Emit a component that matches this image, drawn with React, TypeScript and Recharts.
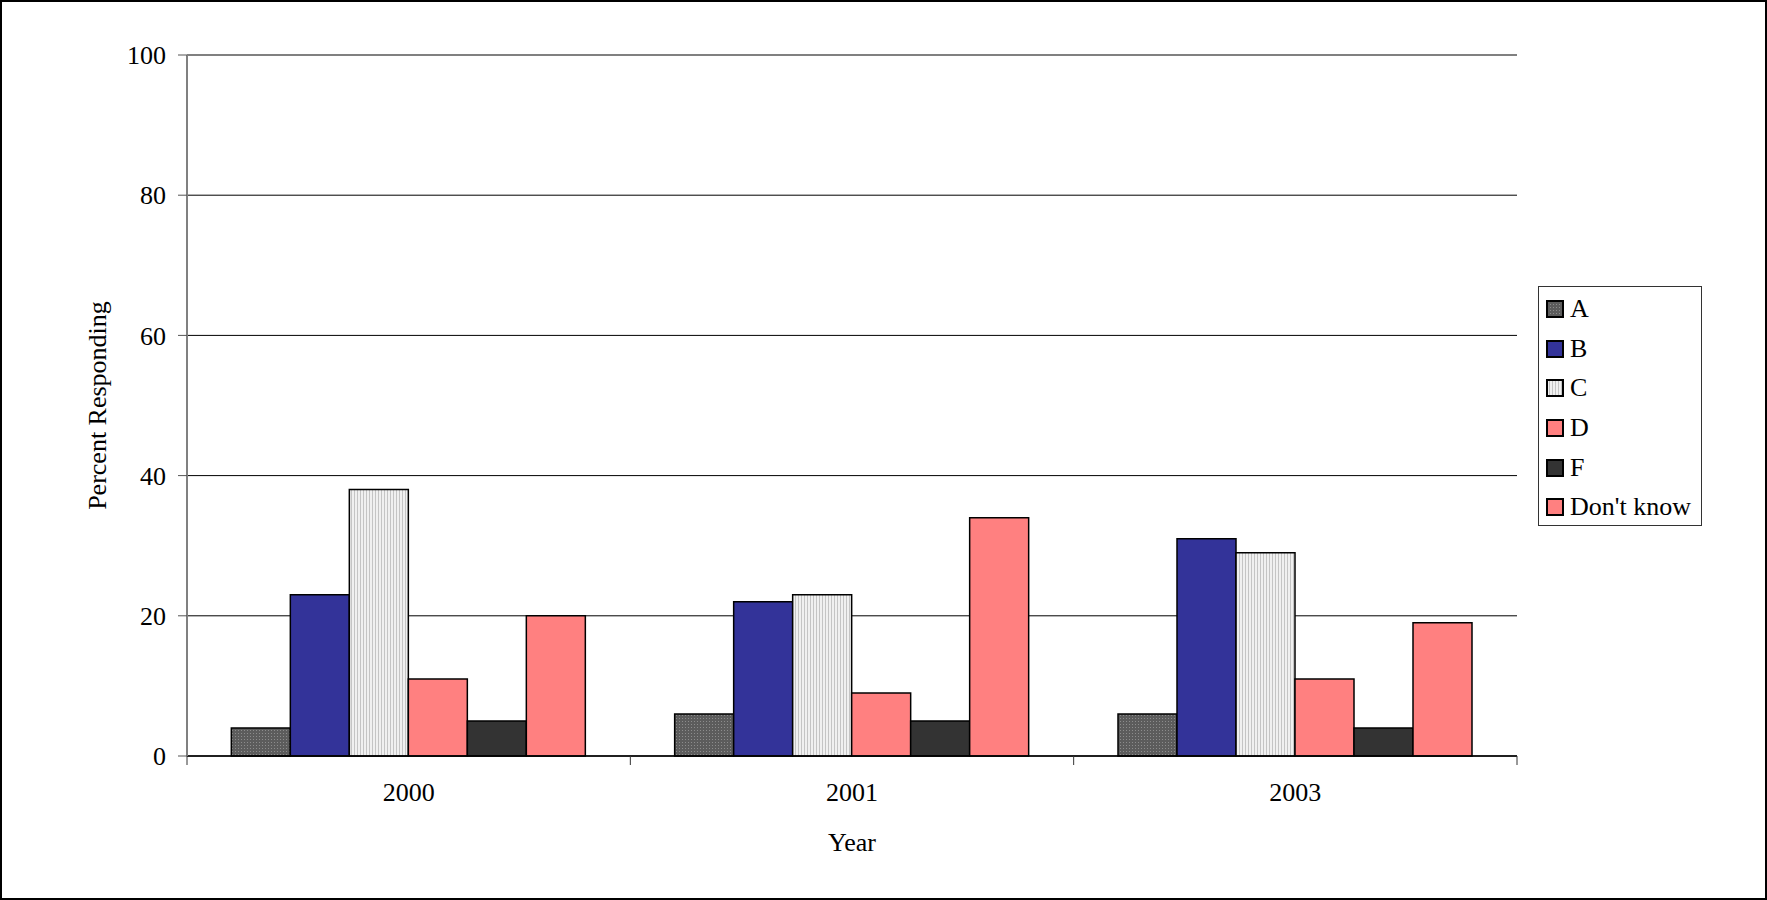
import { BarChart, Bar, XAxis, YAxis, CartesianGrid, Legend, ReferenceLine } from 'recharts'

const years = ['2000', '2001', '2003']
const gradeA = [4, 6, 6]
const gradeB = [23, 22, 31]
const gradeC = [38, 23, 29]
const gradeD = [11, 9, 11]
const gradeF = [5, 5, 4]
const dontKnow = [20, 34, 19]
const yTicks = [0, 20, 40, 60, 80, 100]

const series = [
  { key: 'A', fill: 'url(#dotsA)' },
  { key: 'B', fill: '#333399' },
  { key: 'C', fill: 'url(#stripesC)' },
  { key: 'D', fill: '#FF8080' },
  { key: 'F', fill: '#333333' },
  { key: "Don't know", fill: '#FF8080' },
]

const data = years.map((year, i) => ({
  year,
  A: gradeA[i],
  B: gradeB[i],
  C: gradeC[i],
  D: gradeD[i],
  F: gradeF[i],
  "Don't know": dontKnow[i],
}))

const W = 1767
const H = 900
const FONT = '"Liberation Serif", "Times New Roman", serif'
const PLOT_LEFT = 187
const PLOT_RIGHT = 1517
const BAND = (PLOT_RIGHT - PLOT_LEFT) / years.length

function YearTick(props: any) {
  const { x, y, payload, index } = props
  const left = x - BAND / 2
  const right = x + BAND / 2
  return (
    <g>
      <line x1={left} y1={y} x2={left} y2={y + 9} stroke="#333" />
      {index === years.length - 1 && <line x1={right} y1={y} x2={right} y2={y + 9} stroke="#333" />}
      <text x={x} y={y + 45} textAnchor="middle" fontFamily={FONT} fontSize={26} fill="#000">
        {payload.value}
      </text>
    </g>
  )
}

function LegendBox() {
  return (
    <div
      style={{
        boxSizing: 'border-box',
        width: 164,
        height: 240,
        border: '1px solid #333',
        background: '#fff',
        paddingTop: 2,
        fontFamily: FONT,
        fontSize: 26,
        color: '#000',
      }}
    >
      {series.map((s) => (
        <div key={s.key} style={{ display: 'flex', alignItems: 'center', height: 39.7, paddingLeft: 7 }}>
          <svg width={18} height={18} style={{ display: 'block' }}>
            <rect x={1} y={1} width={16} height={16} fill={s.fill} stroke="#000" strokeWidth={2} />
          </svg>
          <span style={{ marginLeft: 6, lineHeight: 1, whiteSpace: 'nowrap' }}>{s.key}</span>
        </div>
      ))}
    </div>
  )
}

export default function App() {
  return (
    <div style={{ position: 'relative', width: W, height: H, background: '#fff' }}>
      <style>{'body{margin:0}'}</style>
      <svg width={0} height={0} style={{ position: 'absolute' }}>
        <defs>
          <pattern id="dotsA" patternUnits="userSpaceOnUse" width={3} height={3}>
            <rect width={3} height={3} fill="#5c5c5c" />
            <rect x={1} y={1} width={1} height={1} fill="#8c8c8c" />
          </pattern>
          <pattern id="stripesC" patternUnits="userSpaceOnUse" width={3} height={3}>
            <rect width={3} height={3} fill="#f0f0f0" />
            <rect width={1} height={3} fill="#c4c4c4" />
          </pattern>
        </defs>
      </svg>
      <div style={{ position: 'absolute', left: 0, top: 0 }}>
        <BarChart
          width={W}
          height={H}
          data={data}
          margin={{ top: 55, right: W - PLOT_RIGHT, bottom: 44, left: 0 }}
          barCategoryGap="10%"
          barGap={0}
        >
          <CartesianGrid vertical={false} stroke="#000" strokeWidth={1} />
          <ReferenceLine y={100} stroke="#808080" strokeWidth={2} />
          <XAxis
            dataKey="year"
            height={100}
            axisLine={{ stroke: '#000', strokeWidth: 1.5 }}
            tickLine={false}
            tickSize={0}
            tickMargin={0}
            tick={<YearTick />}
            interval={0}
            label={(p: any) => {
              const vb = p.viewBox
              return (
                <text x={vb.x + vb.width / 2} y={vb.y + 95} textAnchor="middle" fontFamily={FONT} fontSize={26} fill="#000">
                  Year
                </text>
              )
            }}
          />
          <YAxis
            width={PLOT_LEFT}
            domain={[0, 100]}
            ticks={yTicks}
            interval={0}
            axisLine={{ stroke: '#808080', strokeWidth: 2 }}
            tickLine={{ stroke: '#555' }}
            tickSize={9}
            tickMargin={12}
            tick={{ fontFamily: FONT, fontSize: 26, fill: '#000' }}
            label={(p: any) => {
              const vb = p.viewBox
              const cy = vb.y + vb.height / 2
              return (
                <text
                  x={106}
                  y={cy}
                  transform={`rotate(-90 106 ${cy})`}
                  textAnchor="middle"
                  fontFamily={FONT}
                  fontSize={26}
                  fill="#000"
                >
                  Percent Responding
                </text>
              )
            }}
          />
          <YAxis
            yAxisId="frame"
            orientation="right"
            width={0}
            domain={[0, 100]}
            tick={false}
            tickLine={false}
            axisLine={{ stroke: '#808080', strokeWidth: 2 }}
          />
          <Legend
            layout="vertical"
            align="center"
            verticalAlign="middle"
            content={() => <LegendBox />}
            wrapperStyle={{ left: 1538, top: 286, width: 164, height: 240 }}
          />
          {series.map((s) => (
            <Bar key={s.key} dataKey={s.key} fill={s.fill} stroke="#000" strokeWidth={1.5} isAnimationActive={false} />
          ))}
        </BarChart>
      </div>
      <div style={{ position: 'absolute', inset: 0, border: '2px solid #000', pointerEvents: 'none' }} />
    </div>
  )
}
